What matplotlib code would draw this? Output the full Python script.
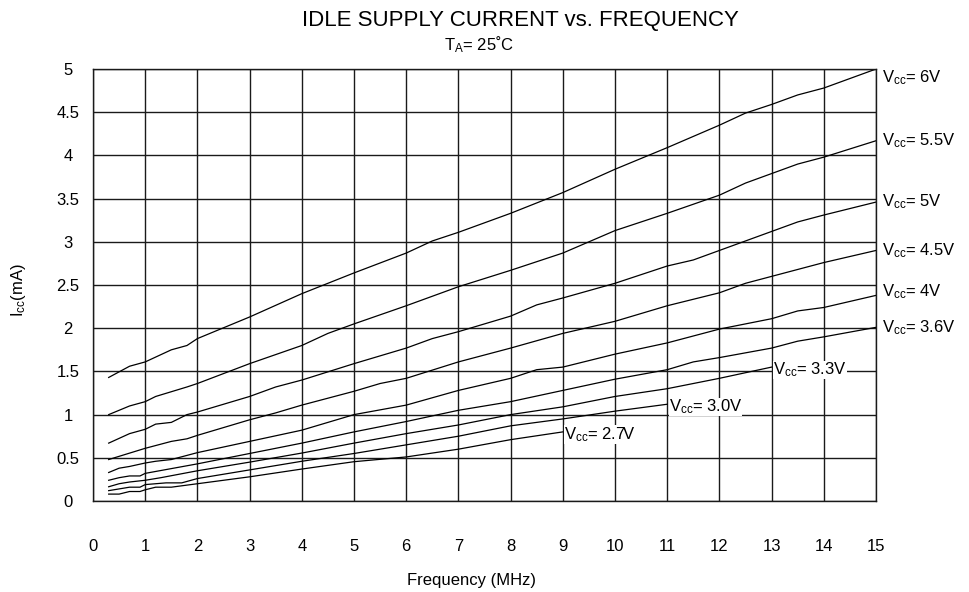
import numpy as np
import matplotlib.pyplot as plt

plt.rcParams['font.family'] = ['Liberation Sans', 'DejaVu Sans']
plt.rcParams['mathtext.fontset'] = 'custom'
plt.rcParams['mathtext.rm'] = 'Liberation Sans'
plt.rcParams['mathtext.it'] = 'Liberation Sans:italic'

# idle supply current (mA) vs frequency (MHz), one curve per Vcc
f_6v = [0.3, 0.7, 1, 1.5, 1.8, 2, 3, 4, 5, 6, 6.5, 7, 8, 8.5, 9, 10, 11, 12, 12.5, 13, 13.5, 14, 15]
i_6v = [1.43, 1.56, 1.61, 1.75, 1.80, 1.88, 2.13, 2.40, 2.64, 2.87, 3.01, 3.11, 3.33, 3.45, 3.57, 3.84,
        4.09, 4.35, 4.49, 4.59, 4.70, 4.78, 5.0]

f_55v = [0.3, 0.7, 1, 1.2, 1.8, 2, 3, 4, 4.5, 5, 6, 7, 8, 9, 9.5, 10, 11, 12, 12.5, 13, 13.5, 14, 15]
i_55v = [1.0, 1.10, 1.15, 1.21, 1.32, 1.36, 1.59, 1.80, 1.94, 2.05, 2.26, 2.48, 2.67, 2.87, 3.0, 3.13,
         3.33, 3.54, 3.68, 3.79, 3.90, 3.98, 4.17]

f_5v = [0.3, 0.7, 1, 1.2, 1.5, 1.8, 2, 3, 3.5, 4, 5, 6, 6.5, 7, 8, 8.5, 9, 10, 11, 11.5, 12, 13, 13.5, 14, 15]
i_5v = [0.67, 0.78, 0.83, 0.89, 0.91, 1.0, 1.03, 1.21, 1.32, 1.40, 1.59, 1.77, 1.88, 1.96, 2.14, 2.27,
        2.35, 2.52, 2.72, 2.79, 2.90, 3.12, 3.23, 3.31, 3.46]

f_45v = [0.3, 1, 1.5, 1.8, 2, 3, 3.5, 4, 5, 5.5, 6, 7, 8, 9, 10, 11, 12, 12.5, 13, 14, 15]
i_45v = [0.48, 0.61, 0.69, 0.72, 0.76, 0.94, 1.02, 1.11, 1.27, 1.36, 1.42, 1.61, 1.77, 1.94, 2.08, 2.26,
         2.41, 2.52, 2.60, 2.76, 2.90]

f_4v = [0.3, 0.5, 0.7, 1, 1.2, 1.5, 2, 3, 4, 5, 6, 7, 8, 8.5, 9, 10, 11, 12, 13, 13.5, 14, 15]
i_4v = [0.33, 0.38, 0.40, 0.44, 0.46, 0.48, 0.56, 0.69, 0.82, 1.0, 1.11, 1.28, 1.42, 1.52, 1.55, 1.70,
        1.83, 1.99, 2.11, 2.20, 2.24, 2.38]

f_36v = [0.3, 0.5, 0.7, 0.9, 1, 2, 3, 4, 5, 6, 7, 8, 9, 10, 11, 11.5, 12, 13, 13.5, 14, 15]
i_36v = [0.24, 0.27, 0.29, 0.29, 0.32, 0.43, 0.55, 0.67, 0.80, 0.92, 1.05, 1.15, 1.28, 1.41, 1.52, 1.61,
         1.66, 1.77, 1.85, 1.90, 2.01]

f_33v = [0.3, 0.5, 0.7, 1, 1.3, 2, 3, 4, 5, 6, 7, 8, 9, 10, 11, 12, 13]
i_33v = [0.165, 0.20, 0.22, 0.24, 0.27, 0.35, 0.45, 0.555, 0.67, 0.78, 0.88, 1.0, 1.09, 1.21, 1.30, 1.42, 1.55]

f_30v = [0.3, 0.7, 0.9, 1, 1.4, 1.7, 2, 3, 4, 5, 6, 7, 8, 9, 10, 11]
i_30v = [0.12, 0.16, 0.16, 0.19, 0.21, 0.21, 0.26, 0.36, 0.46, 0.55, 0.65, 0.75, 0.87, 0.95, 1.04, 1.12]

f_27v = [0.3, 0.5, 0.7, 0.9, 1, 1.2, 1.5, 2, 3, 4, 5, 6, 7, 8, 9]
i_27v = [0.08, 0.08, 0.11, 0.11, 0.13, 0.16, 0.16, 0.20, 0.28, 0.37, 0.455, 0.51, 0.60, 0.71, 0.80]

edge_names = ['6V', '5.5V', '5V', '4.5V', '4V', '3.6V']
inner_names = ['3.3V', '3.0V', '2.7V']

x_ticks = list(range(16))
y_ticks = [0, 0.5, 1, 1.5, 2, 2.5, 3, 3.5, 4, 4.5, 5]
y_tick_labels = ['0', '0.5', '1', '1.5', '2', '2.5', '3', '3.5', '4', '4.5', '5']

edge_curves = [(f_6v, i_6v), (f_55v, i_55v), (f_5v, i_5v), (f_45v, i_45v), (f_4v, i_4v), (f_36v, i_36v)]
inner_curves = [(f_33v, i_33v), (f_30v, i_30v), (f_27v, i_27v)]
edge_dy = [-6, 0, 0, 0, 3, 0]

fig = plt.figure(figsize=(9.7, 5.92), dpi=100)
ax = fig.add_axes([0.0959, 0.1537, 0.8072, 0.7297])

for x, y in edge_curves + inner_curves:
    ax.plot(x, y, color='black', lw=0.9)

ax.set_xlim(0, 15)
ax.set_ylim(0, 5)
ax.set_xticks(x_ticks)
ax.set_yticks(y_ticks)
ax.set_yticklabels(y_tick_labels)
ax.grid(True, color='0.1', lw=1.0)
ax.set_axisbelow(True)
for s in ax.spines.values():
    s.set_color('0.1')
    s.set_linewidth(1.0)
ax.tick_params(length=0, labelsize=12)
ax.tick_params(axis='x', pad=27)
ax.tick_params(axis='y', pad=18)
for t in ax.get_yticklabels():
    t.set_horizontalalignment('center')

for name, (x, y), dy in zip(edge_names, edge_curves, edge_dy):
    ax.annotate('V$_{\\mathrm{cc}}$= ' + name, xy=(x[-1], y[-1]), xytext=(4, dy),
                textcoords='offset points', ha='left', va='center', fontsize=12,
                annotation_clip=False)

for name, (x, y) in zip(inner_names, inner_curves):
    ax.annotate('V$_{\\mathrm{cc}}$= ' + name, xy=(x[-1], y[-1]), xytext=(1, -2),
                textcoords='offset points', ha='left', va='center', fontsize=12,
                bbox=dict(facecolor='white', edgecolor='none', pad=0))

fig.text(0.537, 0.966, 'IDLE SUPPLY CURRENT vs. FREQUENCY', ha='center', va='center', fontsize=16)
fig.text(0.494, 0.924, 'T$_{\\mathrm{A}}$= 25˚C', ha='center', va='center', fontsize=12)
fig.text(0.486, 0.02, 'Frequency (MHz)', ha='center', va='center', fontsize=12)
fig.text(0.019, 0.51, 'I$_{\\mathrm{cc}}$(mA)', ha='center', va='center', rotation=90, fontsize=12)

fig.savefig('out.png', dpi=100)
